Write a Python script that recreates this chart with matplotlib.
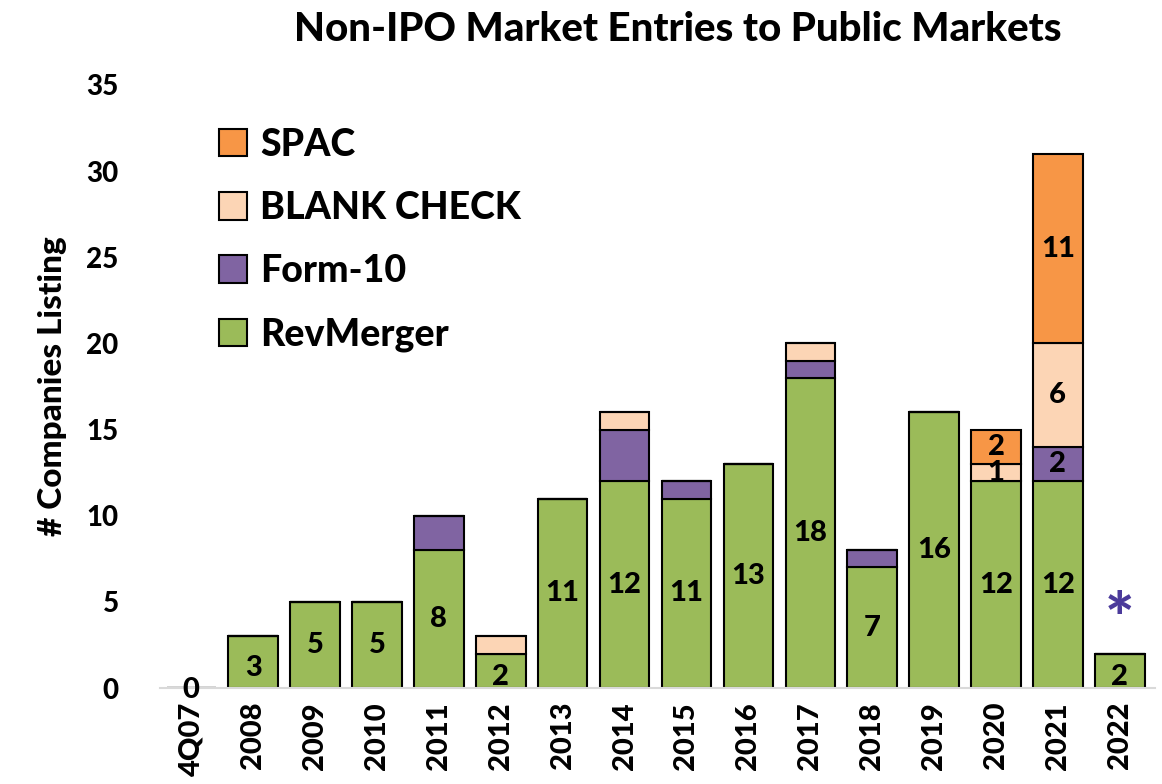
import numpy as np
import matplotlib.pyplot as plt

categories = ["4Q07", "2008", "2009", "2010", "2011", "2012", "2013", "2014",
              "2015", "2016", "2017", "2018", "2019", "2020", "2021", "2022"]
rev_merger = np.array([0, 3, 5, 5, 8, 2, 11, 12, 11, 13, 18, 7, 16, 12, 12, 2])
form10 = np.array([0, 0, 0, 0, 2, 0, 0, 3, 1, 0, 1, 1, 0, 0, 2, 0])
blank_check = np.array([0, 0, 0, 0, 0, 1, 0, 1, 0, 0, 1, 0, 0, 1, 6, 0])
spac = np.array([0, 0, 0, 0, 0, 0, 0, 0, 0, 0, 0, 0, 0, 2, 11, 0])

W = 900
plt.rcParams.update({
    "font.family": ["Lato", "DejaVu Sans"],
    "font.weight": W,
})

fig = plt.figure(figsize=(11.62, 7.84), dpi=100)
ax = fig.add_axes([0.138, 0.1224, 0.856, 0.7692])

x = np.arange(len(categories))
w = 0.8
edge = dict(edgecolor="black", linewidth=1.5)

series = [
    ("RevMerger", rev_merger, "#9BBB59"),
    ("Form-10", form10, "#8064A2"),
    ("BLANK CHECK", blank_check, "#FCD5B5"),
    ("SPAC", spac, "#F79646"),
]

bottom = np.zeros(len(x))
handles = []
for name, vals, color in series:
    bars = ax.bar(x, vals, w, bottom=bottom, color=color, label=name, **edge)
    handles.append(bars)
    bottom = bottom + vals

lab_fs = 21

# labels on RevMerger bars
for i, v in enumerate(rev_merger):
    if v == 0:
        ax.text(x[i], -0.1, "0", ha="center", va="center", fontsize=lab_fs, fontweight=W)
    elif v <= 3:
        ax.text(x[i], v / 2 - 0.35, str(v), ha="center", va="center",
                fontsize=lab_fs, fontweight=W)
    else:
        ax.text(x[i], v / 2, str(v), ha="center", va="center", fontsize=lab_fs, fontweight=W)

# labels on the 2020 and 2021 upper segments
for i in (13, 14):
    base = rev_merger[i]
    for vals in (form10, blank_check, spac):
        v = vals[i]
        if v > 0:
            ax.text(x[i], base + v / 2, str(v), ha="center", va="center",
                    fontsize=lab_fs, fontweight=W)
        base += v

# asterisk above 2022
ax.text(x[15], rev_merger[15] + 1.8, "*", ha="center", va="center",
        fontsize=50, fontweight=W, color="#4B3A9B")

ax.set_xlim(-0.5, 15.57)
ax.set_ylim(0, 35)
ax.set_yticks(np.arange(0, 36, 5))
ax.set_xticks(x)
ax.set_xticklabels(categories, rotation=90, fontsize=21, fontweight=W)
ax.tick_params(axis="y", length=0, labelsize=20, pad=30)
ax.tick_params(axis="x", length=0, pad=10)
for s in ("top", "right", "left"):
    ax.spines[s].set_visible(False)
ax.spines["bottom"].set_color("#D9D9D9")
ax.spines["bottom"].set_linewidth(1.5)

ax.set_ylabel("# Companies Listing", fontsize=24, fontweight=W, labelpad=14)
ax.set_title("Non-IPO Market Entries to Public Markets", fontsize=29,
             fontweight=W, pad=32, x=0.52)

ax.legend(handles[::-1], [s[0] for s in series][::-1], loc="upper left",
          bbox_to_anchor=(0.025, 0.985), frameon=False, fontsize=27,
          handlelength=0.75, handleheight=0.75, labelspacing=0.78, handletextpad=0.35)

fig.savefig("out.png", dpi=100)
